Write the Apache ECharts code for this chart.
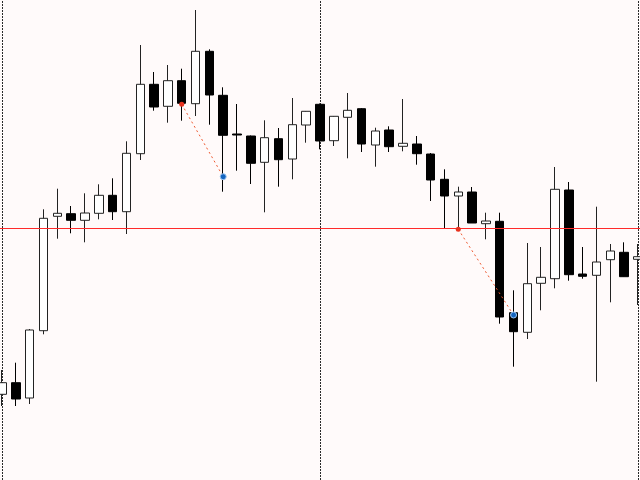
<!DOCTYPE html>
<html>
<head>
<meta charset="utf-8">
<script src="https://cdn.jsdelivr.net/npm/echarts@6/dist/echarts.min.js"></script>
<style>
html,body{margin:0;padding:0;background:#fffafa;}
#chart{width:640px;height:480px;}
</style>
</head>
<body>
<div id="chart"></div>
<script>
// bar labels
const categories = [];
for (let i = 0; i < 47; i++) categories.push('Bar ' + (i + 1));

// [open, close, low, high]
const candles = [
  [1.08057, 1.08173, 1.07940, 1.08300],
  [1.08173, 1.08010, 1.07940, 1.08373],
  [1.08020, 1.08700, 1.07960, 1.08710],
  [1.08693, 1.09817, 1.08657, 1.09907],
  [1.09837, 1.09867, 1.09613, 1.10113],
  [1.09863, 1.09797, 1.09667, 1.09940],
  [1.09797, 1.09870, 1.09577, 1.10067],
  [1.09867, 1.10047, 1.09807, 1.10157],
  [1.10047, 1.09883, 1.09800, 1.10217],
  [1.09883, 1.10467, 1.09660, 1.10587],
  [1.10463, 1.11157, 1.10400, 1.11550],
  [1.11157, 1.10930, 1.10893, 1.11280],
  [1.10937, 1.11193, 1.10773, 1.11350],
  [1.11193, 1.10967, 1.10793, 1.11313],
  [1.10963, 1.11487, 1.10840, 1.11900],
  [1.11487, 1.11050, 1.10753, 1.11507],
  [1.11047, 1.10647, 1.10083, 1.11127],
  [1.10660, 1.10650, 1.10293, 1.10960],
  [1.10640, 1.10367, 1.10160, 1.10645],
  [1.10377, 1.10623, 1.09877, 1.10797],
  [1.10613, 1.10403, 1.10133, 1.10720],
  [1.10410, 1.10753, 1.10207, 1.11020],
  [1.10750, 1.10887, 1.10573, 1.10890],
  [1.10957, 1.10590, 1.10507, 1.10965],
  [1.10593, 1.10837, 1.10540, 1.10840],
  [1.10827, 1.10897, 1.10417, 1.11070],
  [1.10913, 1.10560, 1.10480, 1.10920],
  [1.10550, 1.10690, 1.10333, 1.10723],
  [1.10700, 1.10533, 1.10480, 1.10737],
  [1.10537, 1.10567, 1.10487, 1.11010],
  [1.10560, 1.10463, 1.10353, 1.10640],
  [1.10460, 1.10200, 1.09990, 1.10470],
  [1.10207, 1.10040, 1.09717, 1.10307],
  [1.10040, 1.10080, 1.09717, 1.10133],
  [1.10080, 1.09770, 1.09770, 1.10130],
  [1.09763, 1.09790, 1.09607, 1.09873],
  [1.09787, 1.08830, 1.08763, 1.09873],
  [1.08873, 1.08683, 1.08333, 1.09097],
  [1.08677, 1.09163, 1.08610, 1.09570],
  [1.09167, 1.09227, 1.08897, 1.09530],
  [1.09213, 1.10107, 1.09117, 1.10330],
  [1.10100, 1.09253, 1.09193, 1.10180],
  [1.09260, 1.09237, 1.09213, 1.09530],
  [1.09247, 1.09380, 1.08183, 1.09933],
  [1.09403, 1.09490, 1.08977, 1.09560],
  [1.09477, 1.09233, 1.09230, 1.09577],
  [1.09407, 1.09433, 1.08950, 1.09560]
];

// horizontal level
const levelPrice = 1.09715;
// vertical separators (bar indices)
const separators = [0, 23, 46];
// trend segments: [startIndex, startPrice, endIndex, endPrice]
const trend1 = [13, 1.10957, 16, 1.10233];
const trend2 = [33, 1.09707, 37, 1.08850];

const yMin = 1.0720, yMax = 1.1200;

function seg(t) {
  return {
    type: 'line',
    silent: true,
    data: [
      {value: [t[0], t[1]], symbol: 'circle', symbolSize: 5, itemStyle: {color: '#e8321e'}},
      {value: [t[2], t[3]], symbol: 'circle', symbolSize: 6, itemStyle: {color: '#1565c0', borderColor: '#9ec5f0', borderWidth: 1}}
    ],
    lineStyle: {color: '#ef5a32', width: 1, type: [2, 3]},
    z: 5
  };
}

const s1 = seg(trend1);
s1.markLine = {
  silent: true,
  z: 1,
  symbol: 'none',
  precision: 6,
  label: {show: false},
  data: separators.map(function (i) {
    return {xAxis: categories[i], lineStyle: {color: '#2a2a2a', type: [2, 1], width: 1}};
  })
};

const chart = echarts.init(document.getElementById('chart'), null, {renderer: 'canvas'});
chart.setOption({
  backgroundColor: '#fffafa',
  animation: false,
  grid: [
    {left: 2, right: 2, top: 0, bottom: 0},
    {left: 0, right: 0, top: 0, bottom: 0}
  ],
  xAxis: [
    {type: 'category', data: categories, boundaryGap: false, show: false, gridIndex: 0},
    {type: 'value', min: 0, max: 1, show: false, gridIndex: 1}
  ],
  yAxis: [
    {type: 'value', min: yMin, max: yMax, show: false, splitLine: {show: false}, gridIndex: 0},
    {type: 'value', min: yMin, max: yMax, show: false, splitLine: {show: false}, gridIndex: 1}
  ],
  series: [
    {
      type: 'line',
      xAxisIndex: 1,
      yAxisIndex: 1,
      silent: true,
      symbol: 'none',
      data: [[0, levelPrice], [1, levelPrice]],
      lineStyle: {color: '#ff2a2a', width: 1, type: 'solid'},
      z: 4
    },
    {
      type: 'candlestick',
      data: candles,
      barWidth: 9,
      clip: false,
      itemStyle: {
        color: '#ffffff',
        color0: '#000000',
        borderColor: '#222222',
        borderColor0: '#000000',
        borderWidth: 1
      },
      z: 2
    },
    s1,
    seg(trend2)
  ]
});
</script>
</body>
</html>
